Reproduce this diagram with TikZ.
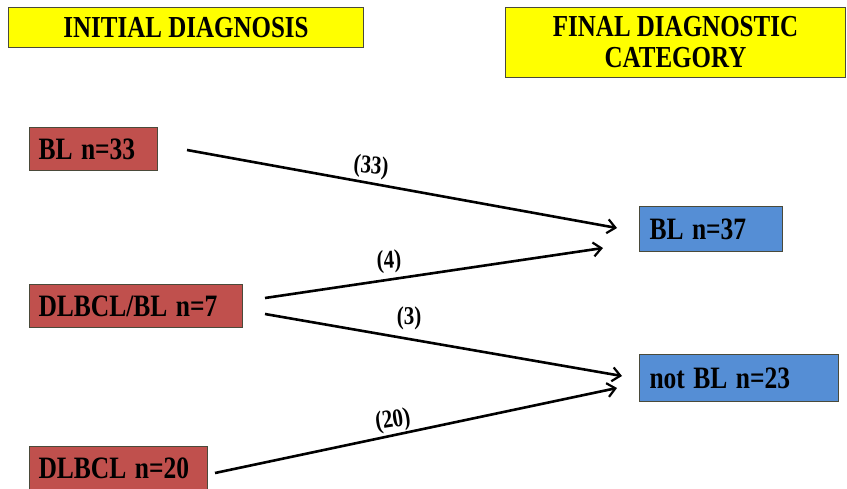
\documentclass[tikz,border=0pt]{standalone}
\usepackage{fontspec}
\setmainfont{Liberation Serif}
\usetikzlibrary{arrows.meta}
\definecolor{hdr}{HTML}{FFFF00}
\definecolor{redfill}{HTML}{C0504D}
\definecolor{bluefill}{HTML}{558ED5}
\definecolor{edge}{HTML}{4A4A3A}
\newcommand{\vstr}[1]{\scalebox{1}[1.22]{#1}}
\tikzset{
  hdrbox/.style={draw=edge, line width=1pt, fill=hdr, anchor=north west, align=center,
    font=\fontsize{25}{30}\selectfont\bfseries, inner sep=0pt},
  redbox/.style={draw=edge, line width=1pt, fill=redfill, anchor=north west, inner xsep=9pt, inner ysep=0pt,
    align=left, font=\fontsize{25.5}{28}\selectfont\bfseries},
  bluebox/.style={draw=edge, line width=1pt, fill=bluefill, anchor=north west, inner xsep=10pt, inner ysep=0pt,
    align=left, font=\fontsize{25.5}{28}\selectfont\bfseries},
  arr/.style={line width=2.6pt, -{Straight Barb[length=8pt,width=14pt,line width=2.2pt]}},
  lbl/.style={font=\fontsize{21}{24}\selectfont\bfseries, inner sep=0pt},
}
\begin{document}
\begin{tikzpicture}[x=1pt,y=-1pt]
\useasboundingbox (0,0) rectangle (847,488);
\fill[white] (0,0) rectangle (847,488);
\node[hdrbox, minimum width=355, minimum height=40] (h1) at (8,7) {\vstr{INITIAL DIAGNOSIS}};
\node[hdrbox, minimum width=340, minimum height=70] (h2) at (505,7) {\vstr{FINAL DIAGNOSTIC}\\[1pt]\vstr{CATEGORY}};
\node[redbox, text width=110, minimum height=43] (bl33) at (29,127) {\vstr{BL n=33}};
\node[redbox, text width=195, minimum height=43] (mix7) at (29,284) {\vstr{DLBCL/BL n=7}};
\node[redbox, text width=160, minimum height=43] (dl20) at (29,446) {\vstr{DLBCL n=20}};
\node[bluebox, text width=123, minimum height=45] (bl37) at (639,206) {\vstr{BL n=37}};
\node[bluebox, text width=179, minimum height=47] (nbl) at (639,354) {\vstr{not BL n=23}};
\draw[arr] ([xshift=29pt,yshift=-1pt]bl33.east) -- ([xshift=-22pt,yshift=1pt]bl37.west);
\draw[arr] ([xshift=22pt,yshift=8pt]mix7.east) -- ([xshift=-36pt,yshift=-19pt]bl37.west);
\draw[arr] ([xshift=22pt,yshift=-8pt]mix7.east) -- ([xshift=-17pt,yshift=2pt]nbl.west);
\draw[arr] ([xshift=7pt,yshift=-5pt]dl20.east) -- ([xshift=-22pt,yshift=-10pt]nbl.west);
\node[lbl, rotate=-5] (l33) at (371,167) {\vstr{(33)}};
\node[lbl, rotate=3] (l4) at (389,262) {\vstr{(4)}};
\node[lbl] (l3) at (409,318) {\vstr{(3)}};
\node[lbl, rotate=9] (l20) at (393,421) {\vstr{(20)}};
\end{tikzpicture}
\end{document}
